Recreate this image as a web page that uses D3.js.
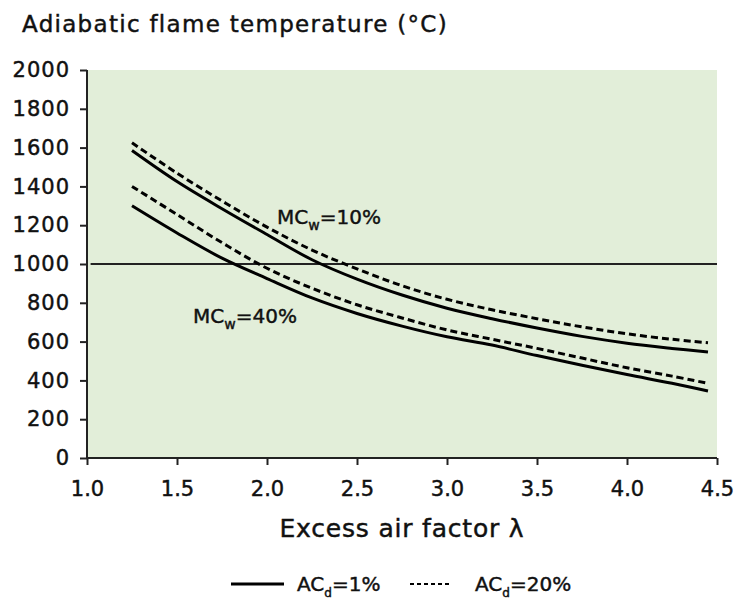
<!DOCTYPE html>
<html>
<head>
<meta charset="utf-8">
<script src="https://cdn.jsdelivr.net/npm/d3@7"></script>
<style>
  body { margin: 0; background: #fff; }
  text { font-family: "DejaVu Sans", sans-serif; fill: #111; stroke: #111; stroke-width: 0.45px; }
</style>
</head>
<body>
<div id="root"></div>
<script>
// excess air factor (λ) where each curve was read
const lambdas = [1.25, 1.5, 1.75, 2.0, 2.25, 2.5, 2.75, 3.0, 3.25, 3.5, 3.75, 4.0, 4.25, 4.45]

// adiabatic flame temperature, °C
const mc10Ac1 = [1585, 1425, 1285, 1152, 1022, 922, 840, 772, 718, 670, 627, 592, 565, 546]
const mc10Ac20 = [1625, 1468, 1325, 1190, 1072, 975, 888, 818, 764, 718, 676, 640, 612, 594]
const mc40Ac1 = [1300, 1160, 1030, 925, 825, 745, 680, 625, 582, 528, 478, 430, 385, 345]
const mc40Ac20 = [1400, 1255, 1110, 978, 875, 790, 722, 660, 612, 565, 515, 465, 422, 385]

const xTicks = [1.0, 1.5, 2.0, 2.5, 3.0, 3.5, 4.0, 4.5]
const yTicks = [0, 200, 400, 600, 800, 1000, 1200, 1400, 1600, 1800, 2000]

const series = [
  { name: "mc10Ac1", values: mc10Ac1, dashed: false },
  { name: "mc10Ac20", values: mc10Ac20, dashed: true },
  { name: "mc40Ac1", values: mc40Ac1, dashed: false },
  { name: "mc40Ac20", values: mc40Ac20, dashed: true },
]

// curve labels: [λ, temperature, main, sub, rest]
const curveLabels = [
  [2.056, 1206, "MC", "w", "=10%"],
  [1.589, 696, "MC", "w", "=40%"],
]

const legendItems = [
  { main: "AC", sub: "d", rest: "=1%", dashed: false },
  { main: "AC", sub: "d", rest: "=20%", dashed: true },
]

function drawChart() {
  const width = 735
  const height = 603
  const margin = { top: 70, right: 18, bottom: 145, left: 87 }
  const boundedWidth = width - margin.left - margin.right
  const boundedHeight = height - margin.top - margin.bottom

  const svg = d3.select("#root").append("svg")
    .attr("width", width)
    .attr("height", height)

  const bounds = svg.append("g")
    .attr("transform", `translate(${margin.left},${margin.top})`)

  const xScale = d3.scaleLinear().domain([1, 4.5]).range([0, boundedWidth])
  const yScale = d3.scaleLinear().domain([0, 2000]).range([boundedHeight, 0])

  // plot background
  bounds.append("rect")
    .attr("width", boundedWidth)
    .attr("height", boundedHeight)
    .attr("fill", "#e2eed9")

  // reference line at 1000
  bounds.append("line")
    .attr("x1", xScale(1.02)).attr("x2", xScale(4.5))
    .attr("y1", yScale(1000)).attr("y2", yScale(1000))
    .attr("stroke", "#222").attr("stroke-width", 2)

  const lineGen = d3.line()
    .x((d, i) => xScale(lambdas[i]))
    .y(d => yScale(d))
    .curve(d3.curveCatmullRom.alpha(0.5))

  bounds.selectAll("path.series")
    .data(series)
    .join("path")
    .attr("class", "series")
    .attr("d", d => lineGen(d.values))
    .attr("fill", "none")
    .attr("stroke", "#000")
    .attr("stroke-width", 3)
    .attr("stroke-dasharray", d => d.dashed ? "7 4" : null)

  // axes
  const xAxis = bounds.append("g")
    .attr("transform", `translate(0,${boundedHeight})`)
    .call(d3.axisBottom(xScale).tickValues(xTicks).tickFormat(d3.format(".1f")).tickSize(7).tickPadding(16))
  const yAxis = bounds.append("g")
    .call(d3.axisLeft(yScale).tickValues(yTicks).tickFormat(d3.format("d")).tickSize(7).tickPadding(10))

  for (const ax of [xAxis, yAxis]) {
    ax.select(".domain").attr("stroke", "#222").attr("stroke-width", 2)
    ax.selectAll(".tick line").attr("stroke", "#222").attr("stroke-width", 2)
    ax.selectAll(".tick text")
      .style("font-family", "'DejaVu Sans', sans-serif")
      .style("font-size", "21px")
      .attr("fill", "#111")
  }
  yAxis.selectAll(".tick text").style("letter-spacing", "1px")
  xAxis.select(".domain").attr("d", `M0,0H${boundedWidth}`)
  yAxis.select(".domain").attr("d", `M0,${boundedHeight}V0`)

  // curve labels
  curveLabels.forEach(([lx, ly, main, sub, rest]) => {
    const t = bounds.append("text")
      .attr("x", xScale(lx))
      .attr("y", yScale(ly))
      .style("font-size", "20px")
    t.append("tspan").text(main)
    t.append("tspan").attr("dy", 6).style("font-size", "14px").text(sub)
    t.append("tspan").attr("dy", -6).text(rest)
  })

  // title
  svg.append("text")
    .attr("x", 22)
    .attr("y", 32)
    .style("font-size", "23px")
    .style("letter-spacing", "1.3px")
    .text("Adiabatic flame temperature (°C)")

  // x axis label
  svg.append("text")
    .attr("x", margin.left + boundedWidth / 2)
    .attr("y", 537)
    .attr("text-anchor", "middle")
    .style("font-size", "25px")
    .style("letter-spacing", "0.8px")
    .text("Excess air factor λ")

  // legend
  const legend = svg.append("g").attr("transform", "translate(231,591)")
  const itemX = [0, 179]
  legendItems.forEach((item, i) => {
    const g = legend.append("g").attr("transform", `translate(${itemX[i]},0)`)
    g.append("line")
      .attr("x1", 0).attr("x2", i === 0 ? 53 : 42)
      .attr("y1", -7).attr("y2", -7)
      .attr("stroke", "#000")
      .attr("stroke-width", i === 0 ? 3 : 2)
      .attr("stroke-dasharray", item.dashed ? "4 3" : null)
    const t = g.append("text")
      .attr("x", i === 0 ? 66 : 65)
      .attr("y", 0)
      .style("font-size", "20px")
    t.append("tspan").text(item.main)
    t.append("tspan").attr("dy", 6).style("font-size", "12px").text(item.sub)
    t.append("tspan").attr("dy", -6).text(item.rest)
  })
}

drawChart()
</script>
</body>
</html>
